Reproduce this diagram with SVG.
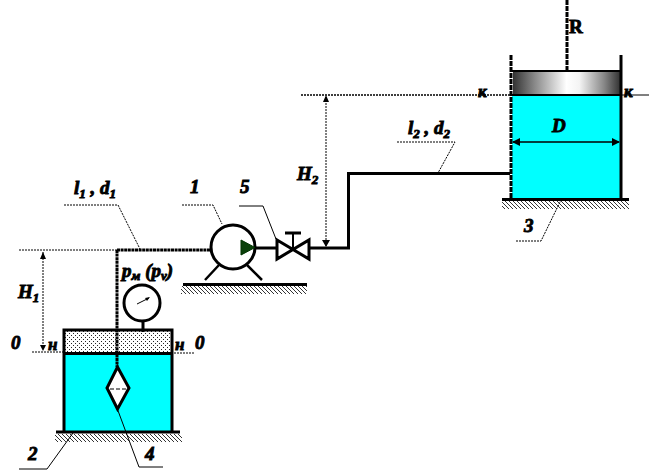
<svg xmlns="http://www.w3.org/2000/svg" width="664" height="471" viewBox="0 0 664 471">
<style>
.t{font-family:"Liberation Serif","Times New Roman",serif;font-weight:bold;font-style:italic;font-size:19px;fill:#000;stroke:#000;stroke-width:.9}
.s{font-size:13px}
.c{font-size:17px}
.pipe{fill:none;stroke:#000;stroke-width:3}
.tex{stroke-dasharray:3 .6}
.w{fill:none;stroke:#000;stroke-width:3}
.thin{fill:none;stroke:#000;stroke-width:1}
.dot{fill:none;stroke:#000;stroke-width:1;stroke-dasharray:2 1}
.dot2{fill:none;stroke:#000;stroke-width:1.5;stroke-dasharray:2 1}
.hatch{fill:url(#h)}
.ah{fill:#000}
</style>
<defs>
<pattern id="h" width="4" height="4" patternUnits="userSpaceOnUse"><path d="M-1,-1L5,5M-1,3L1,5M3,-1L5,1" stroke="#000" stroke-width=".8" fill="none"/></pattern>
<pattern id="g" width="4" height="4" patternUnits="userSpaceOnUse"><rect x="1" y="1" width="1" height="1" fill="#222"/><rect x="3" y="3" width="1" height="1" fill="#222"/></pattern>
<linearGradient id="pg" x1="0" x2="1" y1="0" y2="0"><stop offset="0" stop-color="#333"/><stop offset=".2" stop-color="#888"/><stop offset=".5" stop-color="#fff"/><stop offset=".62" stop-color="#f4f4f4"/><stop offset=".85" stop-color="#888"/><stop offset="1" stop-color="#333"/></linearGradient>
</defs>
<rect width="664" height="471" fill="#fff"/>

<g id="tank2">
<rect x="65" y="353" width="106" height="78" fill="#0ff"/>
<rect x="65" y="330" width="106" height="23" fill="#fff"/>
<rect x="65" y="330" width="106" height="23" fill="url(#g)"/>
<path class="w" d="M64,431V330H172V431M64,353.500H172"/>
<path d="M56,432H180" stroke="#000" stroke-width="3"/>
<rect class="hatch" x="55" y="434" width="127" height="8"/>
</g>

<g id="tank3">
<rect x="512" y="95" width="109" height="104" fill="#0ff"/>
<rect x="513" y="71" width="107" height="24" fill="url(#pg)"/>
<path d="M567,0V71" stroke="#000" stroke-width="3" stroke-dasharray="5 1"/>
<path d="M512,71H621M512,95H621" stroke="#000" stroke-width="2"/>
<path d="M511,55V199" stroke="#000" stroke-width="3" stroke-dasharray="5 1"/>
<path d="M621,55V199" stroke="#000" stroke-width="3"/>
<path d="M502,199.500H629" stroke="#000" stroke-width="3"/>
<rect class="hatch" x="502" y="201" width="127" height="8"/>
<path d="M513,142H619" stroke="#000" stroke-width="1.500"/>
<path class="ah" d="M512,142l8,-4v8zM620,142l-8,-4v8z"/>
</g>

<g id="connectors">
<path class="dot" d="M19,250H117"/>
<path class="pipe tex" d="M117,250V367"/>
<path class="pipe tex" d="M117,250H212"/>
<path class="pipe" d="M256,248H277"/>
<path class="pipe" d="M309,248H348.500V173.500H510"/>
<path class="dot2" d="M301,95H510"/>
<path class="thin" d="M622,95H649"/>
<path class="dot" d="M43,252V347"/>
<path class="ah" d="M43,252l-3,7h6zM43,351l-3,-6h6z"/>
<path class="dot" d="M326,97V246"/>
<path class="ah" d="M326,95l-3,7h6zM326,247l-4,-7h8z"/>
<path class="dot" d="M32,352H64"/>
<path class="dot" d="M174,353H194"/>
<path class="dot" d="M64,205H118L140,249"/>
<path class="dot" d="M182,205H213L222,224"/>
<path class="thin" d="M239,206H263L276,239"/>
<path class="dot" d="M397,142H455L438,173"/>
<path class="dot" d="M516,241H541L561,200"/>
<path class="thin" d="M19,469H47L73,433"/>
<path class="thin" d="M117,408L139,467H163"/>
</g>

<g id="filter4">
<path d="M117.500,367L129,388L117.500,409L107,388Z" fill="#fff" stroke="#000" stroke-width="3"/>
<path d="M110,389H126" stroke="#000" stroke-width="1" stroke-dasharray="4 2"/>
</g>

<g id="gauge">
<circle cx="142" cy="303" r="18" fill="#fff" stroke="#000" stroke-width="3"/>
<path d="M137,304L149,298" stroke="#000" stroke-width="1"/>
<path d="M150,297l-5,1l2,3z" fill="#000"/>
<path d="M143,321V332" stroke="#000" stroke-width="3"/>
</g>

<g id="pump1">
<circle cx="233" cy="247" r="22" fill="#fff" stroke="#000" stroke-width="3"/>
<path d="M241,240L255,247.500L241,255Z" fill="#0a400a" stroke="#030" stroke-width="1"/>
<path d="M219,265L205,280M247,265L262,280" stroke="#000" stroke-width="2.500"/>
<path d="M183,284.500H307" stroke="#000" stroke-width="3"/>
<rect class="hatch" x="181" y="286" width="126" height="8"/>
</g>

<g id="valve5">
<path d="M277,240L309,259V240L277,259Z" fill="#fff" stroke="#000" stroke-width="3"/>
<path d="M293,234V248" stroke="#000" stroke-width="2"/>
<path d="M285,233H301" stroke="#000" stroke-width="3"/>
</g>

<g id="labels">
<text class="t" x="18" y="298">H<tspan class="s" dy="4">1</tspan></text>
<text class="t" x="297" y="180">H<tspan class="s" dy="4">2</tspan></text>
<text class="t" x="11" y="349">0</text>
<text class="t" x="195" y="349">0</text>
<text class="t c" x="48" y="350">н</text>
<text class="t c" x="175" y="350">н</text>
<text class="t c" x="478" y="97">к</text>
<text class="t c" x="624" y="97">к</text>
<text class="t" x="74" y="194">l<tspan class="s" dy="4">1</tspan><tspan dy="-4"> , d</tspan><tspan class="s" dy="4">1</tspan></text>
<text class="t" x="408" y="134">l<tspan class="s" dy="4">2</tspan><tspan dy="-4"> , d</tspan><tspan class="s" dy="4">2</tspan></text>
<text class="t" x="190" y="193">1</text>
<text class="t" x="240" y="193">5</text>
<text class="t" x="122" y="277">p<tspan class="s" dy="3">м</tspan><tspan dy="-3"> (p</tspan><tspan class="s" dy="3">v</tspan><tspan dy="-3">)</tspan></text>
<text class="t" x="28" y="460">2</text>
<text class="t" x="145" y="460">4</text>
<text class="t" x="524" y="232">3</text>
<text class="t" x="552" y="132">D</text>
<text class="t" x="569" y="33" style="font-style:normal">R</text>
</g>
</svg>
